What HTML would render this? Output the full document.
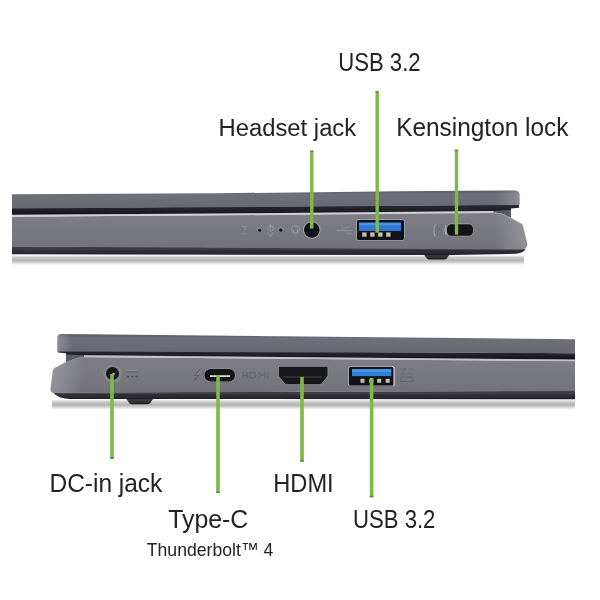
<!DOCTYPE html>
<html><head><meta charset="utf-8">
<style>
html,body{margin:0;padding:0;background:#fff;width:600px;height:600px;overflow:hidden}
svg{display:block;will-change:transform}
text{font-family:"Liberation Sans",sans-serif;fill:#232323}
</style></head>
<body>
<svg width="600" height="600" viewBox="0 0 600 600">
<defs>
  <linearGradient id="shU" x1="0" y1="0" x2="0" y2="1">
    <stop offset="0" stop-color="#eeeeee"/><stop offset="0.2" stop-color="#cccccc"/><stop offset="0.5" stop-color="#b2b2b2"/><stop offset="0.75" stop-color="#d2d2d2"/><stop offset="1" stop-color="#fff"/>
  </linearGradient>
  <linearGradient id="lidG" x1="0" y1="0" x2="0" y2="1">
    <stop offset="0" stop-color="#55555d"/><stop offset="0.09" stop-color="#63636c"/><stop offset="0.22" stop-color="#6f6f7a"/><stop offset="1" stop-color="#696974"/>
  </linearGradient>
  <linearGradient id="bandG" x1="0" y1="0" x2="0" y2="1">
    <stop offset="0" stop-color="#404046"/><stop offset="0.3" stop-color="#38383e"/><stop offset="0.33" stop-color="#4a4a50"/><stop offset="0.4" stop-color="#303036"/><stop offset="0.8" stop-color="#2a2a30"/><stop offset="1" stop-color="#151518"/>
  </linearGradient>
  <linearGradient id="footG" x1="0" y1="0" x2="0" y2="1">
    <stop offset="0" stop-color="#3a3a40"/><stop offset="0.6" stop-color="#35353b"/><stop offset="1" stop-color="#141417"/>
  </linearGradient>
  <linearGradient id="darkG" x1="0" y1="0" x2="0" y2="1">
    <stop offset="0" stop-color="#2a2a30"/><stop offset="0.6" stop-color="#1f1f25"/><stop offset="1" stop-color="#111115"/>
  </linearGradient>
  <linearGradient id="hiR" x1="0" y1="0" x2="1" y2="0">
    <stop offset="0" stop-color="#fff" stop-opacity="0"/><stop offset="1" stop-color="#fff" stop-opacity="0.22"/>
  </linearGradient>
  <linearGradient id="hiL" x1="1" y1="0" x2="0" y2="0">
    <stop offset="0" stop-color="#fff" stop-opacity="0"/><stop offset="1" stop-color="#fff" stop-opacity="0.22"/>
  </linearGradient>
  <linearGradient id="baseG" x1="0" y1="0" x2="0" y2="1">
    <stop offset="0" stop-color="#7e7e86"/><stop offset="0.5" stop-color="#78787f"/><stop offset="1" stop-color="#72727a"/>
  </linearGradient>
</defs>

<!-- ============ UPPER LAPTOP ============ -->
<rect x="12" y="255.5" width="512" height="9.5" fill="url(#shU)"/>
<path d="M420.8,253 L452.5,253 Q449,254.5 447.5,257.5 Q446.5,259.6 444,259.6 L429.5,259.6 Q427,259.6 426,257.5 Q424.5,254.5 420.8,253 Z" fill="url(#footG)"/>
<path d="M12,246.3 L526,248.3 Q524.5,253 516,253.8 L450,255 L12,254.3 Z" fill="url(#bandG)"/>
<path d="M12,216.7 L495,212.6 Q502,213 507,216 L511,218 L521.3,223.6 Q522.6,224.3 523,225.8 L527.3,243.5 Q527.8,249.3 521.5,249.5 L12,246.5 Z" fill="url(#baseG)"/>
<path d="M495,212.6 Q502,213 507,216 L511,218 L521.3,223.6 Q522.6,224.3 523,225.8 L527.3,243.5 Q527.8,249.3 521.5,249.5 L495,249 Z" fill="url(#hiR)"/>
<path d="M12,214.7 L215,213.6 L493,211.1 L493,212.9 L215,215.5 L12,216.6 Z" fill="#d0d0d4"/>
<path d="M493,206 L511,206 L511,218 L507,216 Q502,213 495,212.6 L493,212.6 Z" fill="#5a5a62"/>
<path d="M493.3,209.5 L493.3,212" stroke="#c8c8cc" stroke-width="1" opacity="0.8"/>
<path d="M495,212.9 Q502,213.3 507,216.3 L511,218.3 L521.3,223.9" fill="none" stroke="#a9a9b0" stroke-width="0.8" opacity="0.8"/>
<path d="M12,208 L519,204.8 L519,207.8 L511,208.5 L511,210 L495,211.1 L215,213.6 L12,214.7 Z" fill="url(#darkG)"/>
<path d="M12,194.2 L215,193.3 L400,191.3 L514.5,190.4 Q519.5,190.5 519.6,195 L519.6,205 L480,205.3 L215,207.3 L12,208.4 Z" fill="url(#lidG)"/>
<path d="M495,190.6 L514.5,190.4 Q519.5,190.5 519.6,195 L519.6,205 L495,205.3 Z" fill="url(#hiR)"/>

<!-- headset jack -->
<circle cx="311.8" cy="230" r="8.8" fill="#a4a4aa"/>
<circle cx="311.8" cy="230" r="7.8" fill="#121217"/>
<circle cx="259.7" cy="230.3" r="1.7" fill="#1a1a1d"/>
<circle cx="280.8" cy="230" r="1.7" fill="#1a1a1d"/>
<!-- usb upper -->
<rect x="356.2" y="219.2" width="48.5" height="21.3" rx="1.5" fill="#a9aaae"/>
<rect x="357" y="220" width="47" height="20" rx="1.5" fill="#10131c"/>
<rect x="359" y="222.7" width="42" height="8.3" fill="#2d78d2"/>
<rect x="359" y="222.7" width="42" height="2.5" fill="#4a96e6"/>
<rect x="362.2" y="232.4" width="4.3" height="4.3" fill="#cbbf9e"/>
<rect x="370.2" y="232.4" width="4.3" height="4.3" fill="#cbbf9e"/>
<rect x="378.2" y="232.4" width="4.3" height="4.3" fill="#cbbf9e"/>
<rect x="386.2" y="232.4" width="4.3" height="4.3" fill="#cbbf9e"/>
<!-- kensington -->
<rect x="446.3" y="223.6" width="27.2" height="12.6" rx="5" fill="#a0a0a6"/>
<rect x="447" y="224.2" width="26" height="11.5" rx="4.5" fill="#141417"/>


<!-- embossed icons upper -->
<g fill="none" stroke-linecap="round" stroke-linejoin="round">
  <path d="M242,226.5 L246.5,226.5 L242,234 L246.5,234" stroke="#9c9ca4" stroke-width="1" opacity="0.55"/>
  <path d="M241,229 L244,231" stroke="#5a5a62" stroke-width="0.9" opacity="0.6"/>
  <path d="M257.5,229.3 Q259.7,226.3 262,229.3" stroke="#a8a8ae" stroke-width="1" opacity="0.8"/>
  <path d="M278.6,229 Q280.8,226 283,229" stroke="#a8a8ae" stroke-width="1" opacity="0.8"/>
  <circle cx="270.5" cy="228.5" r="2.8" stroke="#a2a2aa" stroke-width="1" opacity="0.7"/>
  <path d="M270.5,224.5 L270.5,229 M268,233 L270.5,236.5 L273,233" stroke="#a2a2aa" stroke-width="1" opacity="0.7"/>
  <circle cx="295.5" cy="229.5" r="3.8" stroke="#a2a2aa" stroke-width="1.1" opacity="0.75"/>
  <path d="M293.5,230 L293.5,232 M297.5,230 L297.5,232" stroke="#a2a2aa" stroke-width="1" opacity="0.7"/>
  <path d="M294,234.5 L296.5,237" stroke="#a2a2aa" stroke-width="1" opacity="0.6"/>
  <path d="M337,230.5 L352,230.5 M342,230.5 L345,227.5 L349,227.5 M345,230.5 L348,233.5 L350,233.5" stroke="#95959c" stroke-width="1" opacity="0.8"/>
  <circle cx="338" cy="230.5" r="1" fill="#9a9aa2" stroke="none" opacity="0.8"/>
  <path d="M435,224.5 Q432.8,230.2 435,236" stroke="#a8a8ae" stroke-width="1.4" opacity="0.7"/>
  <path d="M437.5,225 L437.5,236 M437.5,230.5 L443,225 M439.5,228.5 L443.5,236" stroke="#5e5e66" stroke-width="1" opacity="0.45"/>
  <path d="M445.8,225.5 Q444,230 445.8,234.5" stroke="#c4c4ca" stroke-width="1" opacity="0.8"/>
</g>
<!-- ============ LOWER LAPTOP ============ -->
<rect x="52" y="400" width="523" height="9.5" fill="url(#shU)"/>
<path d="M124.5,398 L155,398 Q152,399.5 151,402 Q150,404.3 147.5,404.3 L132,404.3 Q129.5,404.3 128.5,402 Q127.5,399.5 124.5,398 Z" fill="url(#footG)"/>
<path d="M53,392.5 L575,390.8 L575,399.3 L70,399 Q58,398.5 53,392.5 Z" fill="url(#bandG)"/>
<path d="M575,361 L84,357 Q80,357 76,358.5 L66,362 L55.5,367.5 Q53,368.7 52.8,371 L50.5,389 Q50.3,392.8 54,392.8 L575,391 Z" fill="url(#baseG)"/>
<path d="M84,357 Q80,357 76,358.5 L66,362 L55.5,367.5 Q53,368.7 52.8,371 L50.5,389 Q50.3,392.8 54,392.8 L80,392.8 Z" fill="url(#hiL)"/>
<path d="M83,355.2 L575,359.5 L575,361.2 L83,357.2 Z" fill="#c4c4c8"/>
<path d="M66,351 L84,351 L84,357 Q80,357 76,358.5 L66,362 Z" fill="#5c5c64"/>
<path d="M57.5,350 L575,353.3 L575,359.5 L83,355.2 L66,354.6 L66,353.2 L58,352.6 Z" fill="url(#darkG)"/>
<path d="M61,334 L575,339.2 L575,353.3 L58.3,351.5 Q57.3,351.5 57.3,350.5 L57.3,338 Q57.5,334 61,334 Z" fill="url(#lidG)"/>
<path d="M61,334 L72,334.1 L72,351.6 L58.3,351.5 Q57.3,351.5 57.3,350.5 L57.3,338 Q57.5,334 61,334 Z" fill="url(#hiL)"/>

<!-- dc jack -->
<circle cx="112.5" cy="373.5" r="10.5" fill="#77787e"/>
<circle cx="112.5" cy="373.5" r="9.5" fill="#86878c"/>
<circle cx="112.5" cy="373.5" r="6.5" fill="#1a1519"/>
<circle cx="113.5" cy="374" r="1.3" fill="#b8b0a0"/>
<!-- type-c -->
<rect x="204" y="368.5" width="31.5" height="13.5" rx="6.7" fill="#9a9ba0"/>
<rect x="204.5" y="369" width="30.5" height="12.5" rx="6.2" fill="#141417"/>
<rect x="210" y="375.2" width="20" height="1.8" fill="#d7d7da"/>
<!-- hdmi -->
<path d="M278.2,366.2 L328.2,366.2 L328.2,376 L321.3,384.7 L285.2,384.7 L278.2,376 Z" fill="#a0a1a6"/>
<path d="M278.8,366.8 L327.6,366.8 L327.6,376 L321,384.2 L285.5,384.2 L278.8,376 Z" fill="#17171b"/>
<rect x="284" y="376" width="38" height="2" fill="#2e2e33"/>
<!-- usb lower -->
<rect x="348.2" y="366.2" width="46.3" height="19.6" rx="1.5" fill="#b0b1b5"/>
<rect x="349" y="367" width="45" height="18.5" rx="1.5" fill="#10131c"/>
<rect x="352" y="369.3" width="39.3" height="6.8" fill="#2d82da"/>
<rect x="352" y="369.3" width="39.3" height="2.2" fill="#4c9ee8"/>
<rect x="360.5" y="378.8" width="4" height="4" fill="#cdbf9c"/>
<rect x="369.3" y="378.8" width="4" height="4" fill="#cdbf9c"/>
<rect x="377.2" y="378.8" width="4" height="4" fill="#cdbf9c"/>
<rect x="385.7" y="378.8" width="4" height="4" fill="#cdbf9c"/>


<!-- embossed icons lower -->
<g fill="none" stroke-linecap="round" stroke-linejoin="round">
  <path d="M127,371.8 L137.5,371.8" stroke="#55555c" stroke-width="1.2" opacity="0.7"/>
  <path d="M127,370.5 L137.5,370.5" stroke="#a6a6ac" stroke-width="0.8" opacity="0.5"/>
  <path d="M127.6,376.6 L128.4,376.6 M131.8,376.6 L132.6,376.6 M136,376.6 L136.8,376.6" stroke="#45454c" stroke-width="1.6" opacity="0.75"/>
  <path d="M199.8,369.5 L195,375.5 L198.5,375.5 L194,380.5" stroke="#505058" stroke-width="1.1" opacity="0.7"/>
  <path d="M200.8,370 L196,376" stroke="#a6a6ae" stroke-width="0.8" opacity="0.5"/>
  <path d="M243,372.5 L243,378 M247,372.5 L247,378 M243,375.3 L247,375.3 M250,378 L250,372.5 L253,372.5 Q256,372.5 256,375.2 Q256,378 253,378 Z M259,378 L259,372.5 L262,376 L265,372.5 L265,378 M268,372.5 L268,378" stroke="#4a4a52" stroke-width="0.9" opacity="0.5"/>
  <path d="M401,369 L406,369 L401,374 L406,374 M408,369 L413,369 L408,374 L413,374" stroke="#55555d" stroke-width="0.9" opacity="0.5"/>
  <path d="M401,377 L413,377 L413,381.5 L401,381.5 Z" stroke="#5a5a62" stroke-width="1" opacity="0.55"/>
  <path d="M394,367.3 L394,385.3" stroke="#dcdce0" stroke-width="1.2" opacity="0.9"/>
</g>
<!-- ============ GREEN LINES ============ -->
<g fill="#7eba47">
  <rect x="375.5" y="91.2" width="3.4" height="141.5"/>
  <rect x="310.1" y="150.6" width="3.4" height="78"/>
  <rect x="454.8" y="149.6" width="3.4" height="85"/>
  <rect x="110.2" y="374" width="3.6" height="84.8"/>
  <rect x="216.2" y="375" width="3.6" height="118"/>
  <rect x="300.2" y="377" width="3.6" height="84.7"/>
  <rect x="369.8" y="378" width="3.6" height="119.3"/>
</g>
<g fill="#5f7a45" opacity="0.85">
  <rect x="375.5" y="91.2" width="3.4" height="1.6"/>
  <rect x="310.1" y="150.6" width="3.4" height="1.6"/>
  <rect x="454.8" y="149.6" width="3.4" height="1.6"/>
  <rect x="110.2" y="457.2" width="3.6" height="1.6"/>
  <rect x="216.2" y="491.4" width="3.6" height="1.6"/>
  <rect x="300.2" y="460.1" width="3.6" height="1.6"/>
  <rect x="369.8" y="495.7" width="3.6" height="1.6"/>
</g>

<!-- ============ LABELS ============ -->
<text x="338.2" y="70.5" font-size="25.4" textLength="82.4" lengthAdjust="spacingAndGlyphs">USB 3.2</text>
<text x="218.5" y="136" font-size="24.7" textLength="137.7" lengthAdjust="spacingAndGlyphs">Headset jack</text>
<text x="396.2" y="136" font-size="25" textLength="172.3" lengthAdjust="spacingAndGlyphs">Kensington lock</text>
<text x="49.5" y="492" font-size="25" textLength="112.8" lengthAdjust="spacingAndGlyphs">DC-in jack</text>
<text x="168.2" y="528.3" font-size="25" textLength="80.1" lengthAdjust="spacingAndGlyphs">Type-C</text>
<text x="146.8" y="555.5" font-size="18.5" textLength="126.4" lengthAdjust="spacingAndGlyphs">Thunderbolt™ 4</text>
<text x="273.3" y="492.2" font-size="25" textLength="60.4" lengthAdjust="spacingAndGlyphs">HDMI</text>
<text x="353" y="527.5" font-size="25" textLength="82.4" lengthAdjust="spacingAndGlyphs">USB 3.2</text>
</svg>
</body></html>
